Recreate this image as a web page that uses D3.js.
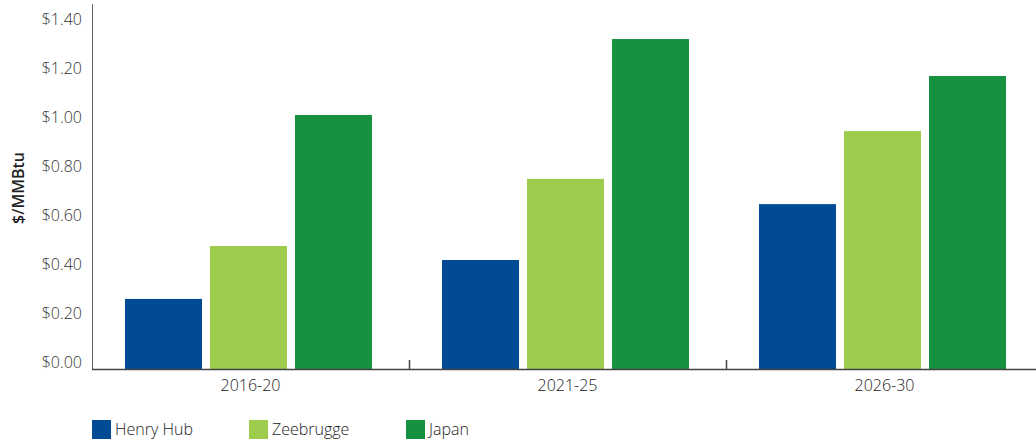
<!DOCTYPE html>
<html>
<head>
<meta charset="utf-8">
<script src="https://cdn.jsdelivr.net/npm/d3@7"></script>
<style>
  html, body { margin: 0; padding: 0; background: #fff; }
  svg { display: block; font-family: "Open Sans", "Noto Sans", sans-serif; }
  .lbl { font-weight: 300; }
</style>
</head>
<body>
<svg id="chart" width="1036" height="440"></svg>
<script>
// Periods on the x axis
const periods = ["2016-20", "2021-25", "2026-30"];
// Price hubs (one bar each per period)
const hubs = ["Henry Hub", "Zeebrugge", "Japan"];
// Values in $/MMBtu, one array per hub, in period order
const henryHub = [0.286, 0.445, 0.673];
const zeebrugge = [0.502, 0.776, 0.971];
const japan = [1.037, 1.347, 1.196];
// Y axis tick values and labels
const yTicks = [0, 0.2, 0.4, 0.6, 0.8, 1.0, 1.2, 1.4];
const yTickLabels = ["$0.00", "$0.20", "$0.40", "$0.60", "$0.80", "$1.00", "$1.20", "$1.40"];
const yTitle = "$/MMBtu";

const colors = { "Henry Hub": "#004b93", "Zeebrugge": "#9dcb4c", "Japan": "#159140" };
const seriesValues = { "Henry Hub": henryHub, "Zeebrugge": zeebrugge, "Japan": japan };

const svg = d3.select("#chart");
const axisLeft = 92, axisRight = 1043, baseY = 369, topY = 4;

const y = d3.scaleLinear().domain([0, 1.49]).range([baseY, topY]);
const x0 = d3.scaleBand().domain(periods).range([axisLeft, axisRight]).padding(0);
const x1 = d3.scaleBand().domain(hubs).range([33, x0.bandwidth() - 37])
  .paddingInner(8 / 85).paddingOuter(0);

const rows = periods.map((p, i) => ({ period: p, values: hubs.map(h => ({ hub: h, value: seriesValues[h][i] })) }));

// Bars
svg.append("g").selectAll("g")
  .data(rows).join("g")
  .attr("transform", d => `translate(${x0(d.period)},0)`)
  .selectAll("rect")
  .data(d => d.values).join("rect")
  .attr("x", d => x1(d.hub))
  .attr("width", x1.bandwidth())
  .attr("y", d => y(d.value))
  .attr("height", d => y(0) - y(d.value))
  .attr("fill", d => colors[d.hub]);

// Y axis: plain line, labels sitting on their tick positions
const yAxis = svg.append("g").attr("transform", `translate(${axisLeft},0)`)
  .call(d3.axisLeft(y).tickValues(yTicks).tickSize(0).tickPadding(10)
    .tickFormat((d, i) => yTickLabels[i]));
yAxis.select(".domain").remove();
yAxis.selectAll("text")
  .attr("class", "lbl")
  .attr("dy", "-0.1em")
  .attr("fill", "#333")
  .style("font-size", "16px")
  .style("font-family", "\"Open Sans\", sans-serif");
svg.append("line")
  .attr("x1", axisLeft + 0.5).attr("x2", axisLeft + 0.5)
  .attr("y1", y.range()[1]).attr("y2", baseY)
  .attr("stroke", "#666").attr("stroke-width", 1);

// X axis: baseline, inward ticks at group boundaries, centred period labels
svg.append("line")
  .attr("x1", axisLeft).attr("x2", 1036)
  .attr("y1", baseY + 0.5).attr("y2", baseY + 0.5)
  .attr("stroke", "#444").attr("stroke-width", 1.5);
svg.append("g").selectAll("line")
  .data(periods.slice(1)).join("line")
  .attr("x1", d => x0(d) + 0.5).attr("x2", d => x0(d) + 0.5)
  .attr("y1", baseY).attr("y2", baseY - 9)
  .attr("stroke", "#444").attr("stroke-width", 1.5);
svg.append("g").selectAll("text")
  .data(periods).join("text")
  .attr("class", "lbl")
  .attr("x", d => x0(d) + x0.bandwidth() / 2)
  .attr("y", 391)
  .attr("text-anchor", "middle")
  .attr("fill", "#222")
  .style("font-size", "16px")
  .text(d => d);

// Y axis title
svg.append("text")
  .attr("transform", "translate(24,188) rotate(-90)")
  .attr("text-anchor", "middle")
  .attr("fill", "#222")
  .style("font-size", "16px")
  .style("font-weight", "600")
  .text(yTitle);

// Legend
const legend = svg.append("g").selectAll("g")
  .data(hubs).join("g")
  .attr("transform", (d, i) => `translate(${92 + i * 157},420)`);
legend.append("rect")
  .attr("width", 19).attr("height", 19)
  .attr("fill", d => colors[d]);
legend.append("text")
  .attr("class", "lbl")
  .attr("x", 23).attr("y", 15)
  .attr("fill", "#222")
  .style("font-size", "16px")
  .text(d => d);
</script>
</body>
</html>
